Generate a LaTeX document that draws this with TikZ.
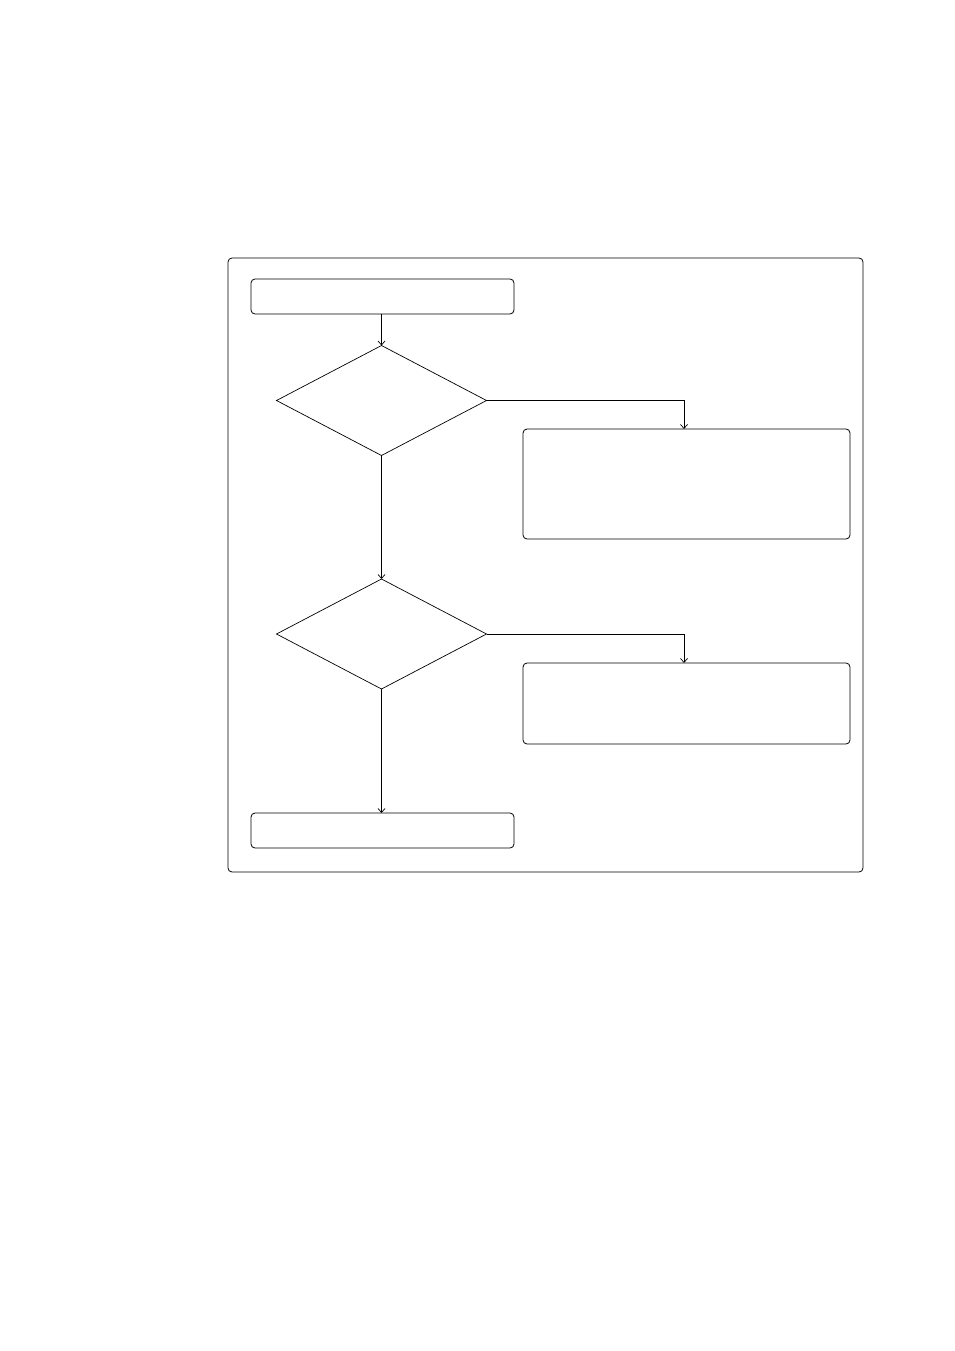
\documentclass[tikz,border=0pt]{standalone}
\usetikzlibrary{shapes.geometric,arrows.meta}
\begin{document}
\begin{tikzpicture}[x=1pt,y=-1pt,
  every node/.style={inner sep=0pt,outer sep=0pt},
  box/.style={draw,rounded corners=4pt,line width=0.8pt,rectangle},
  dec/.style={draw,diamond,line width=0.7pt},
  conn/.style={line width=0.7pt,-{Straight Barb[length=4pt,width=7pt]}}]
\useasboundingbox (0,0) rectangle (954,1351);
\node[box,minimum width=635pt,minimum height=614pt] (frame) at (545.5,565) {};
\node[box,minimum width=263pt,minimum height=35pt] (start) at (382.5,296.5) {};
\node[dec,minimum width=210pt,minimum height=110pt] (d1) at (381.5,400.5) {};
\node[box,minimum width=327pt,minimum height=110pt] (r1) at (686.5,484) {};
\node[dec,minimum width=210pt,minimum height=110pt] (d2) at (381.5,634) {};
\node[box,minimum width=327pt,minimum height=81pt] (r2) at (686.5,703.5) {};
\node[box,minimum width=263pt,minimum height=35pt] (stop) at (382.5,830.5) {};
\draw[conn] (start.south -| d1.north) -- (d1.north);
\draw[conn] (d1.east) -| ([xshift=-2.5pt]r1.north);
\draw[conn] (d1.south) -- (d2.north);
\draw[conn] (d2.east) -| ([xshift=-2.5pt]r2.north);
\draw[conn] (d2.south) -- (stop.north -| d2.south);
\end{tikzpicture}
\end{document}
